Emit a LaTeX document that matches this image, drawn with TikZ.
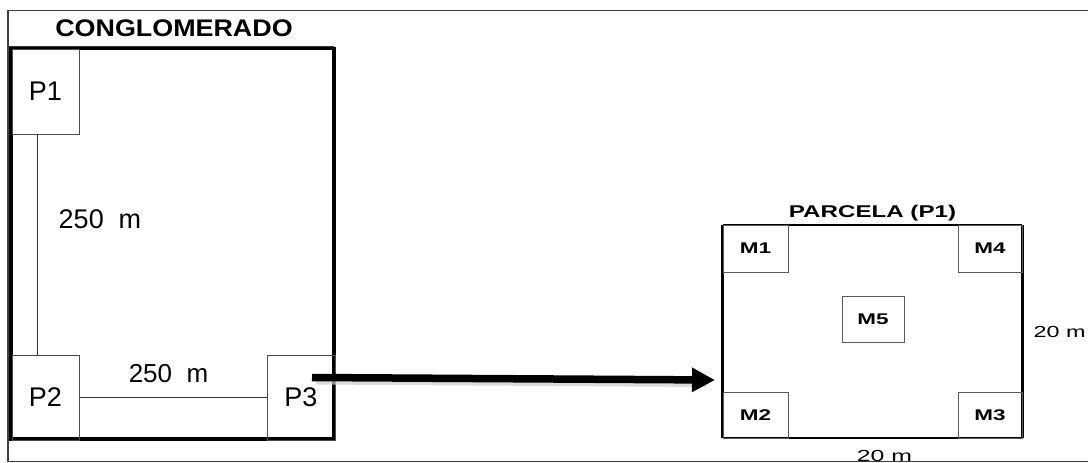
\documentclass[tikz,border=0pt]{standalone}
\usepackage{fontspec}
\setmainfont{Liberation Sans}
\usetikzlibrary{arrows.meta}
\tikzset{
  pbox/.style={draw=black!70, line width=1pt, inner sep=0pt, minimum width=67pt, minimum height=85pt,
    font=\fontsize{27}{27}\selectfont},
  mbox/.style={draw=black!65, line width=1pt, inner sep=0pt, minimum width=65pt, minimum height=47pt,
    font=\bfseries\fontsize{15.5}{15.5}\selectfont},
  thin link/.style={draw=black!80, line width=0.9pt},
  frame/.style={draw=black!75, line width=1.4pt},
  bigarrow/.style={line width=7.5pt, -{Triangle[length=23pt,width=23pt]}},
  shadowline/.style={line width=4pt, draw=black!20, opacity=0.7}
}
\newcommand{\wide}[1]{\scalebox{1.45}[1]{#1}}
\begin{document}
\begin{tikzpicture}[x=1pt,y=-1pt]
\useasboundingbox (0,0) rectangle (1088,463);
% outer frame
\draw[frame] (1090,10.5) -- (8,10.5) -- (8,461.5) -- (1090,461.5);
\draw[draw=black!80, line width=1pt] (8,46.5) -- (334,46.5);
\node[font=\bfseries\fontsize{24}{24}\selectfont] (title) at (174,28) {\scalebox{1.12}[1]{CONGLOMERADO}};
% conglomerado thick frame
\draw[line width=3.2pt] (11,48.5) rectangle (334,439);
\node[pbox] (p1) at (45.5,91.5) {P1};
\node[pbox] (p2) at (45.5,397.5) {P2};
\node[pbox, minimum width=68pt] (p3) at (301,397.5) {P3};
\coordinate (v1) at (37,134);
\coordinate (v2) at (37,355);
\draw[thin link] (v1) -- (v2);
\draw[thin link] (p2.east) -- (p3.west);
\node[font=\fontsize{27}{27}\selectfont] (l250a) at (100,219.5) {250~~m};
\node[font=\fontsize{26}{26}\selectfont] (l250b) at (168.5,374) {250~~m};
% arrow
\coordinate (as) at (312,377.5);
\coordinate (ae) at (715,380);
\draw[shadowline, transform canvas={yshift=-5pt}] ([xshift=4pt]as) -- ([xshift=-8pt]ae);
\draw[bigarrow] (as) -- (ae);
% parcela
\node[inner sep=0pt, minimum width=299pt, minimum height=213pt] (parcela) at (872.5,331.5) {};
\draw[line width=2pt] (parcela.north west) -- (parcela.north east);
\draw[line width=2pt] (parcela.south west) -- (parcela.south east);
\draw[line width=3pt] (parcela.north west) -- (parcela.south west);
\draw[line width=3pt] (parcela.north east) -- (parcela.south east);
\node[font=\bfseries\fontsize{17}{17}\selectfont] (ptitle) at (872.5,213) {\scalebox{1.42}[1]{PARCELA (P1)}};
\node[mbox] (m1) at (755.5,248.5) {\wide{M1}};
\node[mbox, minimum width=64pt] (m4) at (990,248.5) {\wide{M4}};
\node[mbox, minimum height=46pt] (m2) at (755.5,415) {\wide{M2}};
\node[mbox, minimum width=64pt, minimum height=46pt] (m3) at (990,415) {\wide{M3}};
\node[mbox, minimum width=62pt, minimum height=46pt] (m5) at (873,319) {\wide{M5}};
\node[anchor=west, inner sep=0pt, font=\fontsize{16}{16}\selectfont] (w20) at (1033.5,332) {\scalebox{1.46}[1]{20 m}};
\node[font=\fontsize{16}{16}\selectfont] (h20) at (884.5,456) {\scalebox{1.55}[1]{20 m}};
\end{tikzpicture}
\end{document}
